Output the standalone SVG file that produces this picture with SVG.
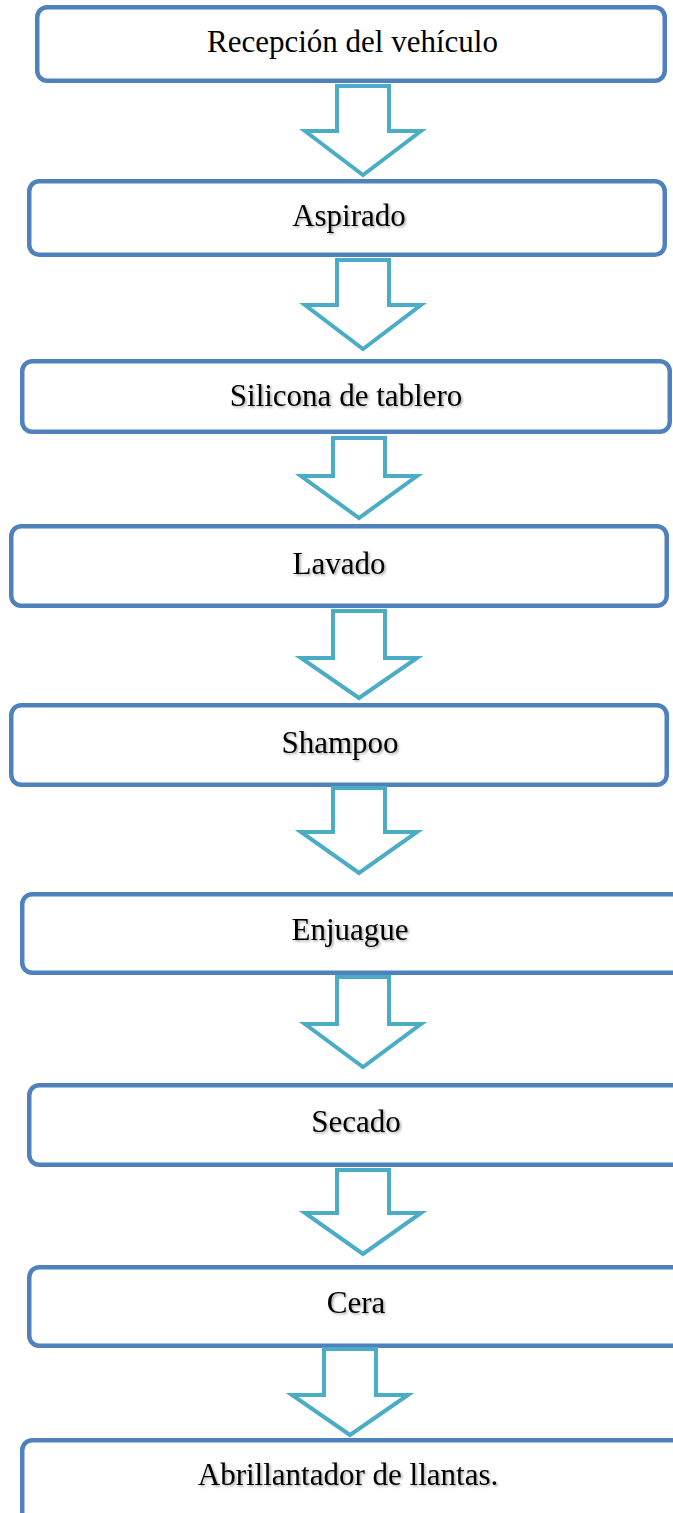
<svg xmlns="http://www.w3.org/2000/svg" width="673" height="1513" viewBox="0 0 673 1513">
<style>
.box{fill:#fff;stroke:#4F81BD;stroke-width:4.5}
.arr{fill:#fff;stroke:#4BACC6;stroke-width:4;stroke-linejoin:miter}
.lbl{font-family:"Liberation Serif","Times New Roman",serif;font-size:31px;fill:#000;text-anchor:middle}
.sh{filter:url(#ts)}
</style>
<defs>
<filter id="ts" x="-10%" y="-30%" width="120%" height="160%">
<feDropShadow dx="1.5" dy="1.5" stdDeviation="1" flood-color="#000" flood-opacity="0.35"/>
</filter>
</defs>
<rect width="673" height="1513" fill="#fff"/>
<g id="n1"><rect class="box" x="37.25" y="7.25" width="627.5" height="73.5" rx="10"/><text class="lbl" x="352.5" y="52">Recepción del vehículo</text></g>
<g id="n2"><rect class="box" x="29.25" y="181.25" width="635.5" height="73.5" rx="10"/><text class="lbl sh" x="349" y="226">Aspirado</text></g>
<g id="n3"><rect class="box" x="22.25" y="361.25" width="647.5" height="70.5" rx="10"/><text class="lbl sh" x="346" y="406">Silicona de tablero</text></g>
<g id="n4"><rect class="box" x="11.25" y="526.25" width="655.5" height="79.5" rx="10"/><text class="lbl sh" x="339" y="574">Lavado</text></g>
<g id="n5"><rect class="box" x="11.25" y="705.25" width="655.5" height="79.5" rx="10"/><text class="lbl sh" x="340" y="753">Shampoo</text></g>
<g id="n6"><rect class="box" x="22.25" y="894.25" width="660" height="78.5" rx="10"/><text class="lbl sh" x="350" y="940">Enjuague</text></g>
<g id="n7"><rect class="box" x="29.25" y="1085.25" width="660" height="79.5" rx="10"/><text class="lbl sh" x="356" y="1132">Secado</text></g>
<g id="n8"><rect class="box" x="29.25" y="1267.25" width="660" height="78.5" rx="10"/><text class="lbl sh" x="356" y="1313">Cera</text></g>
<g id="n9"><rect class="box" x="22.25" y="1440.25" width="660" height="85" rx="10"/><text class="lbl sh" x="348" y="1485">Abrillantador de llantas.</text></g>
<g id="connectors">
<path class="arr" d="M337,86 H389 V131 H421 L363,175 L305,131 H337 Z"/>
<path class="arr" d="M337,260 H389 V305 H421 L363,349 L305,305 H337 Z"/>
<path class="arr" d="M333,438 H385 V476 H417 L359,518 L301,476 H333 Z"/>
<path class="arr" d="M333,611 H385 V658 H417 L359,698 L301,658 H333 Z"/>
<path class="arr" d="M333,788 H385 V832 H417 L359,873 L301,832 H333 Z"/>
<path class="arr" d="M337,977 H389 V1024 H421 L363,1067 L305,1024 H337 Z"/>
<path class="arr" d="M337,1170 H389 V1213 H421 L363,1254 L305,1213 H337 Z"/>
<path class="arr" d="M324,1349 H376 V1395 H408 L350,1435 L292,1395 H324 Z"/>
</g>
</svg>
